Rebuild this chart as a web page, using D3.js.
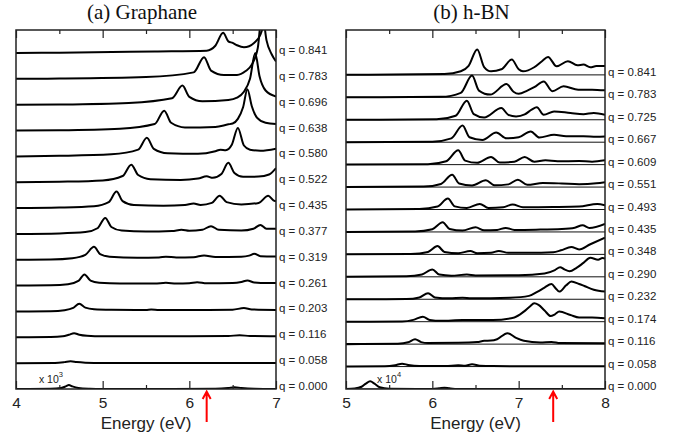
<!DOCTYPE html>
<html>
<head>
<meta charset="utf-8">
<script src="https://cdn.jsdelivr.net/npm/d3@7"></script>
<style>
  body { margin: 0; background: #fff; }
  svg { display: block; }
</style>
</head>
<body>
<div id="chart"></div>
<script>
// q values (labels at right of each panel), bottom to top
var qGraphane = ["0.000","0.058","0.116","0.203","0.261","0.319","0.377","0.435","0.522","0.580","0.638","0.696","0.783","0.841"];
var qBN = ["0.000","0.058","0.116","0.174","0.232","0.290","0.348","0.435","0.493","0.551","0.609","0.667","0.725","0.783","0.841"];

var ticksGraphane = [4, 5, 6, 7];
var ticksBN = [5, 6, 7, 8];

// Graphane spectra: [energy eV, height above its baseline (1 = curve spacing)]
var gr000 = [[4,0],[4.4,0.01],[4.52,0.04],[4.58,0.11],[4.61,0.15],[4.65,0.1],[4.72,0.04],[4.85,0.01],[5,0],[6.3,0.01],[6.45,0.04],[6.52,0.07],[6.6,0.04],[6.75,0.01],[7,0]];
var gr058 = [[4,0],[4.45,0.01],[4.56,0.04],[4.63,0.07],[4.7,0.04],[4.8,0.02],[5,0.01],[6,0.01],[7,0.01]];
var gr116 = [[4,0],[4.4,0.01],[4.54,0.04],[4.61,0.1],[4.67,0.16],[4.73,0.1],[4.82,0.06],[5,0.04],[6,0.04],[6.45,0.05],[6.58,0.08],[6.7,0.05],[7,0.04]];
var gr203 = [[4,0],[4.4,0.01],[4.56,0.05],[4.66,0.14],[4.73,0.3],[4.8,0.15],[4.9,0.09],[5.1,0.07],[5.5,0.06],[5.56,0.08],[5.65,0.06],[6.1,0.06],[6.5,0.07],[6.63,0.13],[6.72,0.08],[7,0.06]];
var gr261 = [[4,0],[4.4,0.01],[4.6,0.05],[4.72,0.18],[4.79,0.43],[4.86,0.19],[4.96,0.11],[5.2,0.08],[5.6,0.08],[5.73,0.11],[5.85,0.08],[6.0,0.09],[6.09,0.13],[6.2,0.09],[6.5,0.1],[6.6,0.14],[6.67,0.2],[6.75,0.12],[6.9,0.1],[7,0.1]];
var gr319 = [[4,0],[4.4,0.01],[4.65,0.06],[4.8,0.19],[4.9,0.5],[4.97,0.22],[5.08,0.12],[5.4,0.08],[5.65,0.09],[5.73,0.12],[5.85,0.09],[6.05,0.1],[6.17,0.17],[6.3,0.11],[6.6,0.12],[6.69,0.16],[6.75,0.23],[6.82,0.14],[7,0.13]];
var gr377 = [[4,0],[4.5,0.02],[4.8,0.07],[4.94,0.22],[5.03,0.62],[5.1,0.27],[5.22,0.13],[5.5,0.09],[5.8,0.11],[5.91,0.16],[6.0,0.12],[6.15,0.16],[6.25,0.3],[6.34,0.16],[6.6,0.13],[6.74,0.2],[6.82,0.35],[6.89,0.2],[7,0.2]];
var gr435 = [[4,0],[4.5,0.02],[4.9,0.07],[5.07,0.23],[5.16,0.64],[5.23,0.27],[5.36,0.12],[5.7,0.09],[5.95,0.12],[6.05,0.18],[6.13,0.12],[6.26,0.2],[6.35,0.48],[6.43,0.23],[6.6,0.14],[6.8,0.2],[6.91,0.48],[6.97,0.3],[7,0.26]];
var gr522 = [[4,0],[4.5,0.02],[5.0,0.07],[5.23,0.24],[5.33,0.68],[5.41,0.28],[5.55,0.12],[5.9,0.09],[6.1,0.14],[6.2,0.23],[6.27,0.17],[6.37,0.32],[6.45,0.75],[6.52,0.36],[6.62,0.21],[6.8,0.22],[6.92,0.3],[7,0.55]];
var gr580 = [[4,0],[4.5,0.02],[5.1,0.08],[5.41,0.26],[5.51,0.72],[5.59,0.29],[5.75,0.12],[6.1,0.1],[6.3,0.2],[6.36,0.26],[6.42,0.24],[6.49,0.45],[6.56,1.1],[6.63,0.42],[6.7,0.26],[6.82,0.22],[7,0.3]];
var gr638 = [[4,0],[4.5,0.01],[5.2,0.07],[5.6,0.25],[5.71,0.77],[5.79,0.3],[5.95,0.12],[6.3,0.14],[6.45,0.24],[6.5,0.27],[6.56,0.45],[6.62,0.9],[6.67,1.6],[6.72,0.95],[6.78,0.5],[6.88,0.3],[7,0.25]];
var gr696 = [[4,0],[4.5,0.01],[5.3,0.07],[5.8,0.25],[5.92,0.74],[6.0,0.3],[6.15,0.13],[6.45,0.18],[6.55,0.27],[6.63,0.5],[6.7,1.0],[6.76,2.0],[6.81,1.1],[6.88,0.55],[7,0.32]];
var gr783 = [[4,0],[4.5,0.01],[5.5,0.07],[6.05,0.25],[6.17,0.84],[6.25,0.32],[6.4,0.15],[6.55,0.15],[6.65,0.3],[6.72,0.55],[6.79,1.2],[6.84,2.6],[6.89,1.5],[6.95,0.95],[7,0.67]];
var gr841 = [[4,0],[4.5,0.01],[5.6,0.06],[6.2,0.09],[6.3,0.28],[6.39,0.78],[6.45,0.45],[6.5,0.39],[6.55,0.3],[6.63,0.22],[6.75,0.4],[6.82,0.71],[6.88,1.5],[6.93,3.0],[6.98,1.8],[7,1.4]];

// h-BN spectra
var bn000 = [[5,0],[5.1,0.02],[5.18,0.1],[5.23,0.24],[5.28,0.34],[5.33,0.24],[5.39,0.08],[5.5,0.01],[6.0,0],[6.08,0.03],[6.14,0.06],[6.2,0.03],[6.3,0],[8,0]];
var bn058 = [[5,0],[5.45,0.01],[5.57,0.06],[5.65,0.13],[5.72,0.07],[5.85,0.02],[6.15,0.02],[6.3,0.06],[6.38,0.04],[6.46,0.1],[6.55,0.04],[6.7,0.02],[8,0.01]];
var bn116 = [[5,0],[5.6,0.02],[5.72,0.08],[5.8,0.22],[5.87,0.09],[5.95,0.05],[6.3,0.06],[6.52,0.09],[6.6,0.15],[6.68,0.16],[6.75,0.22],[6.87,0.49],[6.97,0.28],[7.06,0.15],[7.25,0.07],[7.38,0.1],[7.48,0.05],[8,0.04]];
var bn174 = [[5,0],[5.65,0.01],[5.78,0.08],[5.89,0.22],[5.97,0.08],[6.1,0.04],[6.35,0.07],[6.7,0.07],[6.95,0.19],[7.06,0.45],[7.13,0.68],[7.18,0.82],[7.23,0.75],[7.3,0.5],[7.37,0.25],[7.42,0.33],[7.47,0.45],[7.6,0.3],[7.7,0.19],[7.85,0.19],[8,0.15]];
var bn232 = [[5,0],[5.7,0.01],[5.85,0.08],[5.95,0.27],[6.03,0.08],[6.2,0.04],[6.35,0.07],[6.45,0.04],[6.9,0.07],[7.12,0.15],[7.22,0.34],[7.3,0.52],[7.38,0.68],[7.43,0.48],[7.47,0.34],[7.55,0.62],[7.61,0.79],[7.7,0.68],[7.76,0.59],[7.87,0.42],[8,0.34]];
var bn290 = [[5,0],[5.7,0.02],[5.88,0.1],[6.0,0.33],[6.08,0.1],[6.22,0.05],[6.4,0.1],[6.5,0.06],[7.0,0.07],[7.3,0.15],[7.42,0.3],[7.48,0.43],[7.53,0.33],[7.59,0.25],[7.67,0.4],[7.75,0.62],[7.83,0.85],[7.92,0.76],[7.97,0.84],[8,0.82]];
var bn348 = [[5,0],[5.75,0.02],[5.95,0.11],[6.06,0.37],[6.14,0.11],[6.3,0.05],[6.44,0.15],[6.52,0.05],[6.68,0.07],[6.77,0.15],[6.88,0.07],[7.12,0.07],[7.4,0.1],[7.49,0.18],[7.61,0.33],[7.7,0.22],[7.83,0.45],[8,0.74]];
var bn435 = [[5,0],[5.8,0.02],[6.0,0.12],[6.12,0.43],[6.2,0.13],[6.35,0.06],[6.5,0.21],[6.6,0.07],[6.75,0.09],[6.85,0.18],[6.95,0.09],[7.2,0.1],[7.5,0.13],[7.65,0.19],[7.74,0.3],[7.82,0.18],[8,0.36]];
var bn493 = [[5,0],[5.85,0.02],[6.06,0.13],[6.18,0.49],[6.26,0.14],[6.4,0.07],[6.55,0.25],[6.65,0.07],[6.82,0.1],[6.93,0.22],[7.05,0.1],[7.4,0.11],[7.7,0.13],[7.91,0.25],[8,0.19]];
var bn551 = [[5,0],[5.9,0.02],[6.1,0.14],[6.23,0.55],[6.31,0.16],[6.46,0.07],[6.62,0.3],[6.72,0.08],[6.88,0.12],[6.99,0.33],[7.1,0.1],[7.28,0.18],[7.5,0.16],[7.7,0.13],[7.9,0.17],[8,0.22]];
var bn609 = [[5,0],[5.95,0.02],[6.16,0.15],[6.3,0.64],[6.38,0.18],[6.52,0.08],[6.68,0.34],[6.78,0.09],[6.95,0.13],[7.07,0.34],[7.18,0.13],[7.31,0.19],[7.45,0.15],[7.7,0.16],[7.85,0.13],[8,0.19]];
var bn667 = [[5,0],[6.0,0.02],[6.22,0.17],[6.35,0.74],[6.43,0.22],[6.58,0.1],[6.74,0.43],[6.86,0.17],[7.0,0.22],[7.14,0.48],[7.24,0.21],[7.41,0.33],[7.55,0.26],[7.75,0.27],[7.9,0.24],[8,0.25]];
var bn725 = [[5,0],[6.05,0.02],[6.27,0.18],[6.4,0.85],[6.48,0.25],[6.6,0.1],[6.8,0.52],[6.88,0.22],[6.97,0.15],[7.07,0.24],[7.15,0.45],[7.21,0.56],[7.29,0.22],[7.41,0.37],[7.6,0.3],[7.75,0.25],[7.87,0.3],[8,0.22]];
var bn783 = [[5,0],[6.1,0.02],[6.33,0.2],[6.46,0.97],[6.54,0.3],[6.67,0.12],[6.86,0.59],[6.94,0.25],[7.0,0.16],[7.1,0.3],[7.18,0.45],[7.29,0.71],[7.39,0.27],[7.52,0.49],[7.69,0.34],[7.85,0.34],[8,0.31]];
var bn841 = [[5,0],[6.14,0.04],[6.33,0.16],[6.42,0.4],[6.52,1.13],[6.6,0.35],[6.68,0.16],[6.8,0.25],[6.92,0.68],[7.0,0.25],[7.05,0.16],[7.18,0.34],[7.27,0.61],[7.34,0.8],[7.44,0.38],[7.57,0.61],[7.68,0.43],[7.75,0.46],[7.83,0.34],[7.9,0.39],[8,0.39]];

var graphaneSeries = [gr000, gr058, gr116, gr203, gr261, gr319, gr377, gr435, gr522, gr580, gr638, gr696, gr783, gr841];
var bnSeries = [bn000, bn058, bn116, bn174, bn232, bn290, bn348, bn435, bn493, bn551, bn609, bn667, bn725, bn783, bn841];

// onset arrows (eV)
var arrowGraphane = 6.2;
var arrowBN = 7.4;

var width = 674, height = 440;
var plotTop = 30, plotBottom = 389;
var sans = "'Liberation Sans', Arial, Helvetica, sans-serif";
var serif = "'Liberation Serif', 'Times New Roman', serif";

var svg = d3.select("#chart")
            .append("svg")
            .attr("width", width)
            .attr("height", height);

var panels = [
  {id: "a", title: "(a) Graphane", left: 16, right: 276, domain: [4, 7], ticks: ticksGraphane,
   q: qGraphane, series: graphaneSeries, top: 13.89, arrow: arrowGraphane,
   multE: 4.265, multExp: "3", baseLines: false},
  {id: "b", title: "(b) h-BN", left: 346, right: 605, domain: [5, 8], ticks: ticksBN,
   q: qBN, series: bnSeries, top: 16.0, arrow: arrowBN,
   multE: 5.36, multExp: "4", baseLines: true}
];

panels.forEach(drawPanel);

function drawPanel(p) {

  var xScale = d3.scaleLinear().domain(p.domain).range([p.left, p.right]);
  var yScale = d3.scaleLinear().domain([0, p.top]).range([plotBottom, plotTop]);

  var minor = d3.range(p.domain[0] + 0.5, p.domain[1], 1);

  svg.append("clipPath")
     .attr("id", "clip-" + p.id)
     .append("rect")
     .attr("x", p.left)
     .attr("y", plotTop)
     .attr("width", p.right - p.left)
     .attr("height", plotBottom - plotTop);

  var g = svg.append("g").attr("clip-path", "url(#clip-" + p.id + ")");

  // thin zero lines (h-BN panel only)
  if (p.baseLines) {
    g.selectAll("line.zero")
     .data(p.q)
     .enter()
     .append("line")
     .attr("class", "zero")
     .attr("x1", p.left)
     .attr("x2", p.right)
     .attr("y1", function(d, i) { return yScale(i); })
     .attr("y2", function(d, i) { return yScale(i); })
     .style("stroke", "#111")
     .style("stroke-width", 1);
  }

  p.series.forEach(function(pts, i) {
    var line = d3.line()
                 .x(function(d) { return xScale(d[0]); })
                 .y(function(d) { return yScale(i + d[1]); })
                 .curve(d3.curveMonotoneX);
    g.append("path")
     .attr("d", line(pts))
     .style("fill", "none")
     .style("stroke", "#000")
     .style("stroke-width", 2)
     .style("stroke-linejoin", "round");
  });

  // frame
  svg.append("rect")
     .attr("x", p.left)
     .attr("y", plotTop)
     .attr("width", p.right - p.left)
     .attr("height", plotBottom - plotTop)
     .style("fill", "none")
     .style("stroke", "#222")
     .style("stroke-width", 1.5);

  // inward ticks, top and bottom
  var topMajor = d3.axisTop(xScale).tickValues(p.ticks).tickSize(-8).tickSizeOuter(0).tickFormat("");
  var topMinor = d3.axisTop(xScale).tickValues(minor).tickSize(-4).tickSizeOuter(0).tickFormat("");
  var botMajor = d3.axisBottom(xScale).tickValues(p.ticks).tickSize(-8).tickSizeOuter(0).tickPadding(8).tickFormat(d3.format("d"));
  var botMinor = d3.axisBottom(xScale).tickValues(minor).tickSize(-4).tickSizeOuter(0).tickFormat("");

  [[topMajor, plotTop], [topMinor, plotTop], [botMajor, plotBottom], [botMinor, plotBottom]].forEach(function(a) {
    var ax = svg.append("g")
                .attr("transform", "translate(0," + a[1] + ")")
                .call(a[0]);
    ax.select(".domain").remove();
    ax.selectAll(".tick line").style("stroke", "#222").style("stroke-width", 1.2);
    ax.selectAll(".tick text")
      .style("font-family", sans)
      .style("font-size", "15.5px")
      .style("fill", "#222");
  });

  // q labels
  svg.selectAll("text.q-" + p.id)
     .data(p.q)
     .enter()
     .append("text")
     .attr("class", "q-" + p.id)
     .attr("x", p.right + 3)
     .attr("y", function(d, i) { return yScale(i) + 1; })
     .style("font-family", sans)
     .style("font-size", "11.5px")
     .style("fill", "#222")
     .text(function(d) { return "q = " + d; });

  // title
  svg.append("text")
     .attr("x", (p.left + p.right) / 2 - 4)
     .attr("y", 18.5)
     .attr("text-anchor", "middle")
     .style("font-family", serif)
     .style("font-size", "21px")
     .style("fill", "#111")
     .text(p.title);

  // axis label
  svg.append("text")
     .attr("x", (p.left + p.right) / 2)
     .attr("y", 428.5)
     .attr("text-anchor", "middle")
     .style("font-family", sans)
     .style("font-size", "17px")
     .style("fill", "#222")
     .text("Energy (eV)");

  // multiplier for q = 0 curve
  var mult = svg.append("text")
                .attr("x", xScale(p.multE))
                .attr("y", 382.5)
                .style("font-family", sans)
                .style("font-size", "10.5px")
                .style("fill", "#222");
  mult.append("tspan").text("x 10");
  mult.append("tspan").attr("dy", -6).style("font-size", "7.5px").text(p.multExp);

  // red onset arrow
  var ax0 = xScale(p.arrow);
  svg.append("path")
     .attr("d", "M" + ax0 + ",422 L" + ax0 + ",392 M" + (ax0 - 4) + ",399 L" + ax0 + ",391.5 L" + (ax0 + 4) + ",399")
     .style("fill", "none")
     .style("stroke", "#f00")
     .style("stroke-width", 2);
}
</script>
</body>
</html>
